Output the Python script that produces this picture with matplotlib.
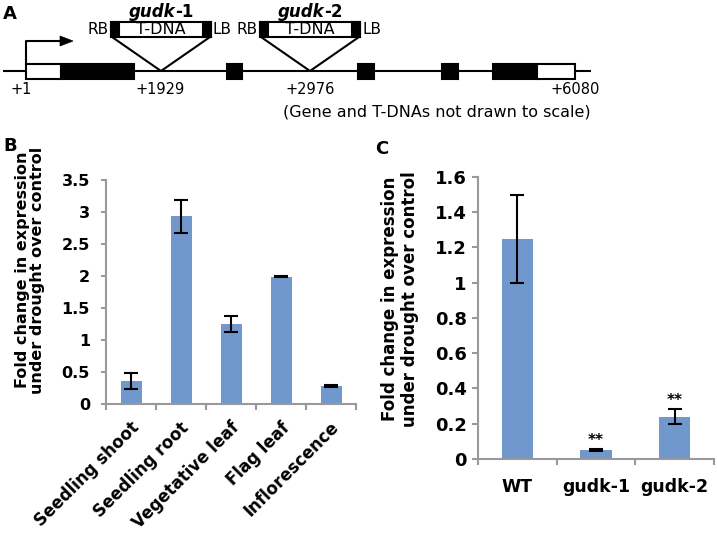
import matplotlib
matplotlib.use('Agg')
import matplotlib.pyplot as plt
from matplotlib.patches import Rectangle, Polygon
from matplotlib.transforms import ScaledTranslation
import numpy as np

plt.rcParams['font.family'] = ['DejaVu Sans']

# ---------------- data ----------------
tissues = ['Seedling shoot', 'Seedling root', 'Vegetative leaf', 'Flag leaf', 'Inflorescence']
tissue_fc = [0.36, 2.93, 1.25, 1.99, 0.28]
tissue_err = [0.12, 0.26, 0.12, 0.01, 0.01]
b_ticks = [0, 0.5, 1, 1.5, 2, 2.5, 3, 3.5]
b_ticklabels = ['0', '0.5', '1', '1.5', '2', '2.5', '3', '3.5']

genotypes = ['WT', 'gudk-1', 'gudk-2']
geno_fc = [1.245, 0.051, 0.24]
geno_err = [0.25, 0.005, 0.042]
geno_sig = ['', '**', '**']
c_ticks = [0, 0.2, 0.4, 0.6, 0.8, 1.0, 1.2, 1.4, 1.6]
c_ticklabels = ['0', '0.2', '0.4', '0.6', '0.8', '1', '1.2', '1.4', '1.6']

ylabel = 'Fold change in expression\nunder drought over control'

# gene model labels
pos_labels = ['+1', '+1929', '+2976', '+6080']
insert_names = ['1', '2']
note = '(Gene and T-DNAs not drawn to scale)'

# ---------------- layout ----------------
W, H = 717, 535
fig = plt.figure(figsize=(W / 100, H / 100), dpi=100)

ax0 = fig.add_axes([0, 0, 1, 1])
ax0.set_xlim(0, W)
ax0.set_ylim(H, 0)
ax0.axis('off')


def px_axes(l, t, r, b):
    return fig.add_axes([l / W, 1 - b / H, (r - l) / W, (b - t) / H])


BAR = '#7198CC'
GREY = '#999999'

# ---------------- panel A: gene model ----------------
lw = 1.5
ax0.plot([3, 591], [71, 71], color='black', lw=lw, solid_capstyle='butt')
exons = [(26, 61, 'white'), (61, 134, 'black'), (227, 242, 'black'),
         (358, 374, 'black'), (442, 458, 'black'), (493, 537, 'black'),
         (537, 575, 'white')]
for x0, x1, c in exons:
    ax0.add_patch(Rectangle((x0, 64), x1 - x0, 15, fc=c, ec='black', lw=lw, zorder=3))
# transcription start arrow
ax0.plot([26, 26, 61], [64, 41, 41], color='black', lw=lw)
ax0.add_patch(Polygon([(60, 36), (73, 41), (60, 46)], closed=True, fc='black', ec='black', lw=0.5))

pos_x = [21, 160, 310, 575]
for lab, x in zip(pos_labels, pos_x):
    ax0.text(x, 89, lab, ha='center', va='center', fontsize=10.5)

ins_x = [161, 310]
fig.canvas.draw()
renderer = fig.canvas.get_renderer()
for name, ix in zip(insert_names, ins_x):
    ax0.add_patch(Rectangle((ix - 50, 22), 100, 15, fc='white', ec='black', lw=lw, zorder=3))
    ax0.add_patch(Rectangle((ix - 50, 22), 8, 15, fc='black', ec='black', lw=lw, zorder=4))
    ax0.add_patch(Rectangle((ix + 42, 22), 8, 15, fc='black', ec='black', lw=lw, zorder=4))
    ax0.plot([ix - 49, ix, ix + 49], [37, 71, 37], color='black', lw=lw)
    ax0.text(ix, 30, 'T-DNA', ha='center', va='center', fontsize=11.5, zorder=5)
    ax0.text(ix - 52, 30, 'RB', ha='right', va='center', fontsize=11)
    ax0.text(ix + 52, 30, 'LB', ha='left', va='center', fontsize=11)
    t1 = ax0.text(0, 12, 'gudk', ha='left', va='center', fontsize=12,
                  fontweight='bold', fontstyle='italic')
    t2 = ax0.text(0, 12, '-' + name, ha='left', va='center', fontsize=12,
                  fontweight='bold')
    w1 = t1.get_window_extent(renderer).width
    w2 = t2.get_window_extent(renderer).width
    start = ix - (w1 + w2) / 2
    t1.set_x(start)
    t2.set_x(start + w1)

ax0.text(437, 112, note, ha='center', va='center', fontsize=11.5)

# panel letters
ax0.text(3, 14, 'A', ha='left', va='center', fontsize=13, fontweight='bold')
ax0.text(3, 146, 'B', ha='left', va='center', fontsize=13, fontweight='bold')
ax0.text(375, 149, 'C', ha='left', va='center', fontsize=13, fontweight='bold')


def style_axes(ax, ncat, ticks, ticklabels, ymax, fs, ylen, ypad):
    ax.set_xlim(-0.5, ncat - 0.5)
    ax.set_ylim(0, ymax)
    for s in ['top', 'right']:
        ax.spines[s].set_visible(False)
    for s in ['left', 'bottom']:
        ax.spines[s].set_color(GREY)
        ax.spines[s].set_linewidth(1.5)
    ax.set_yticks(ticks)
    ax.set_yticklabels(ticklabels, fontsize=fs, fontweight='bold')
    ax.tick_params(axis='y', direction='out', length=ylen, width=1.5, color=GREY, pad=ypad)
    ax.set_xticks(np.arange(-0.5, ncat, 1.0), minor=True)
    ax.tick_params(axis='x', which='minor', direction='out', length=4, width=1.5, color=GREY)
    ax.patch.set_alpha(0)


# ---------------- panel B ----------------
axB = px_axes(106, 180, 356, 404)
xb = np.arange(len(tissues))
axB.bar(xb, tissue_fc, width=0.42, color=BAR, zorder=2)
axB.errorbar(xb, tissue_fc, yerr=tissue_err, fmt='none', ecolor='black',
             elinewidth=1.5, capsize=5, capthick=1.5, zorder=3)
style_axes(axB, len(tissues), b_ticks, b_ticklabels, 3.5, 11.5, 3.5, 8)
axB.set_xticks(xb)
axB.set_xticklabels(tissues, fontsize=12, fontweight='bold', rotation=45,
                    ha='right', va='center', rotation_mode='anchor')
axB.tick_params(axis='x', which='major', length=0, pad=15)
for lab in axB.get_xticklabels():
    lab.set_transform(lab.get_transform() + ScaledTranslation(4 / 72, 0, fig.dpi_scale_trans))
ax0.text(30, 270, ylabel, rotation=90, ha='center', va='center', fontsize=11.5,
         fontweight='bold', linespacing=1.05)

# ---------------- panel C ----------------
axC = px_axes(478, 176.7, 714, 459)
xc = np.arange(len(genotypes))
axC.bar(xc, geno_fc, width=0.4, color=BAR, zorder=2)
axC.errorbar(xc, geno_fc, yerr=geno_err, fmt='none', ecolor='black',
             elinewidth=1.5, capsize=5, capthick=1.5, zorder=3)
style_axes(axC, len(genotypes), c_ticks, c_ticklabels, 1.6, 13, 4, 4)
axC.set_xticks(xc)
axC.set_xticklabels(genotypes, fontsize=12.5, fontweight='bold')
axC.tick_params(axis='x', which='major', length=0, pad=14)
for x, v, e, s in zip(xc, geno_fc, geno_err, geno_sig):
    if s:
        axC.annotate(s, (x, v + e), xytext=(0, 6), textcoords='offset points',
                     ha='center', va='center', fontsize=11, fontweight='bold')
ax0.text(400, 299, ylabel, rotation=90, ha='center', va='center', fontsize=12,
         fontweight='bold', linespacing=1.2)

fig.savefig('out.png', dpi=100)
